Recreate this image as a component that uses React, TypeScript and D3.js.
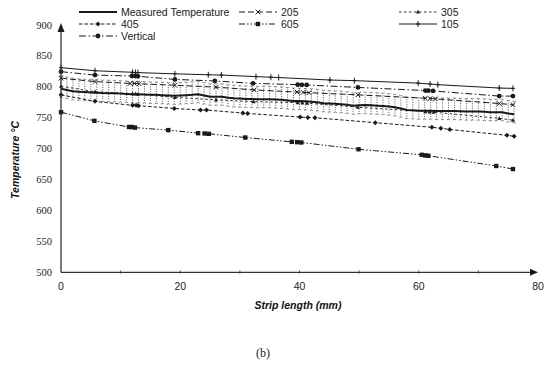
import React from "react";
import * as d3 from "d3";

// ---- data ----
const xTicks = [0, 20, 40, 60, 80];
const xMinorTicks = [10, 30, 50, 70];
const yTicks = [500, 550, 600, 650, 700, 750, 800, 850, 900];

const measuredX = [0,1,2,3,4,5,6,7,8,9,10,11,12,13,14,15,16,17,18,19,20,21,22,23,24,25,26,27,28,29,30,31,32,33,34,35,36,37,38,39,40,41,42,43,44,45,46,47,48,49,50,51,52,53,54,55,56,57,58,59,60,61,62,63,64,65,66,67,68,69,70,71,72,73,74,75,76];
const measuredY = [797,795,793,792,791.5,791,790.5,790,789.8,789.5,789,788.5,788,788,787.5,787,787,786.5,786,785.6,786,786.5,787,788,786,784,784,784,782.5,781.5,781,780.5,780.3,780,780,780,779.5,779,778,777,777,776.5,776,775,773.5,773,772.5,772,771,769.5,770,770.5,770,769.5,769,768,767,765,762.5,762,761.5,761.5,761.5,761,761,761,761,760.5,760,760,760,759.5,759,759,759,757,755.5];
const measuredErrUp = 21;
const measuredErrDown = 14;

const s205X = [0,5.7,11.6,12.3,13.1,19.1,26.0,32.4,39.6,40.6,41.6,49.8,61.1,61.9,62.8,73.5,75.8];
const s205Y = [814,808.5,805.5,805.5,805,802.5,799.5,795,791.5,791,790.5,787,781.5,781,780.5,773,771];

const s305X = [0,5.7,12.0,12.5,12.9,19.1,26.0,32.3,39.7,40.5,41.3,49.8,61.1,61.8,62.5,73.5,75.8];
const s305Y = [801,792,789,788.5,788,783,779,776,774.5,774,773.5,767,760,759.5,759,749,746];

const s405X = [0,5.7,12.0,12.6,13.0,19.0,23.4,24.4,30.5,31.3,40.1,41.4,42.6,52.7,62.2,63.7,65.2,74.8,76.0];
const s405Y = [787,776.5,770,770,769.5,765,762.5,762.5,757.5,757,751,750.5,750,742,734.5,733,731,721.5,720];

const s605X = [0,5.6,11.4,11.9,12.4,18.0,23.0,24.1,24.8,30.9,38.7,39.6,40.3,49.9,60.5,61.1,61.6,73.0,75.8];
const s605Y = [759,745,735,735,734,730,725,724.5,724,718,711,710.5,710,699,690,689,688.5,672,667];

const s105X = [0,5.7,12.0,12.5,12.9,19.1,24.7,26.9,32.7,35.2,36.5,45.1,49.2,59.9,61.9,63.2,73.5,75.8];
const s105Y = [831,826,823.5,823,823,821,819.5,819,816.5,815.5,815,811,810,806,804.5,803.5,798,797.5];

const verticalX = [0,5.7,11.9,12.5,12.9,19.1,25.8,32.2,39.7,40.4,41.2,49.8,61.1,61.6,62.4,73.5,75.8];
const verticalY = [824.5,819,817.5,817.5,817,812,809.5,805.6,803.5,803.3,803,799,794,793.8,793.3,785,785];

type Marker = "none" | "x" | "tri" | "diamond" | "square" | "plus" | "circle";

const seriesDefs: { name: string; xs: number[]; ys: number[]; dash: string; width: number; marker: Marker }[] = [
  { name: "Measured Temperature", xs: measuredX, ys: measuredY, dash: "", width: 2, marker: "none" },
  { name: "205", xs: s205X, ys: s205Y, dash: "6,3", width: 1, marker: "x" },
  { name: "305", xs: s305X, ys: s305Y, dash: "2.5,2.5", width: 0.9, marker: "tri" },
  { name: "405", xs: s405X, ys: s405Y, dash: "3.5,2", width: 1, marker: "diamond" },
  { name: "605", xs: s605X, ys: s605Y, dash: "6,2,1.5,2,1.5,2", width: 1, marker: "square" },
  { name: "105", xs: s105X, ys: s105Y, dash: "", width: 1, marker: "plus" },
  { name: "Vertical", xs: verticalX, ys: verticalY, dash: "7,2.5,1.5,2.5", width: 1, marker: "circle" },
];

const W = 550;
const H = 384;
const INK = "#1a1a1a";

function MarkerShape({ type, x, y }: { type: Marker; x: number; y: number }) {
  switch (type) {
    case "x":
      return (
        <g stroke={INK} strokeWidth={1}>
          <line x1={x - 2.3} y1={y - 2.3} x2={x + 2.3} y2={y + 2.3} />
          <line x1={x - 2.3} y1={y + 2.3} x2={x + 2.3} y2={y - 2.3} />
        </g>
      );
    case "tri":
      return <path d={`M${x},${y - 2.2}L${x + 2},${y + 1.6}L${x - 2},${y + 1.6}Z`} fill={INK} />;
    case "diamond":
      return <path d={`M${x},${y - 2.5}L${x + 2.5},${y}L${x},${y + 2.5}L${x - 2.5},${y}Z`} fill={INK} />;
    case "square":
      return <rect x={x - 2.2} y={y - 2.2} width={4.4} height={4.4} fill={INK} />;
    case "plus":
      return (
        <g stroke={INK} strokeWidth={1}>
          <line x1={x} y1={y - 3} x2={x} y2={y + 3} />
          <line x1={x - 2} y1={y} x2={x + 2} y2={y} />
        </g>
      );
    case "circle":
      return <circle cx={x} cy={y} r={2.4} fill={INK} />;
    default:
      return null;
  }
}

export default function App() {
  const x = d3.scaleLinear().domain([0, 80]).range([61, 538]);
  const y = d3.scaleLinear().domain([500, 900]).range([272.3, 25]);
  const line = d3
    .line<[number, number]>()
    .x((d) => x(d[0]))
    .y((d) => y(d[1]));

  const legendCols = [79, 239, 399];
  const legendRows = [12, 24, 36];
  const legendLen = 38;

  return (
    <svg width={W} height={H} style={{ position: "absolute", left: 0, top: 0, background: "#fff" }}>
      <rect x={0} y={0} width={W} height={H} fill="#fff" />

      {/* error bars */}
      <g stroke="#333" strokeWidth={0.8} strokeDasharray="1,1.3">
        {measuredX.map((mx, i) => {
          const px = x(mx);
          const top = y(measuredY[i] + measuredErrUp);
          const bot = y(measuredY[i] - measuredErrDown);
          return (
            <g key={i}>
              <line x1={px} y1={top} x2={px} y2={bot} />
              <line x1={px - 1.5} y1={top} x2={px + 1.5} y2={top} />
              <line x1={px - 1.5} y1={bot} x2={px + 1.5} y2={bot} />
            </g>
          );
        })}
      </g>

      {/* series */}
      {seriesDefs.map((s) => {
        const pts = s.xs.map((v, i) => [v, s.ys[i]] as [number, number]);
        return (
          <g key={s.name}>
            <path d={line(pts) || ""} fill="none" stroke={INK} strokeWidth={s.width} strokeDasharray={s.dash || undefined} />
            {s.marker !== "none" &&
              pts.map((p, i) => <MarkerShape key={i} type={s.marker} x={x(p[0])} y={y(p[1])} />)}
          </g>
        );
      })}

      {/* axes */}
      <g stroke="#333" strokeWidth={1.3} fill="none">
        <line x1={x(0)} y1={y(500)} x2={x(0)} y2={y(900) + 6} />
        <line x1={x(0)} y1={y(500)} x2={x(80) - 5} y2={y(500)} />
      </g>
      <path d={`M${x(0)},${y(900) - 2}L${x(0) + 3.5},${y(900) + 7}L${x(0) - 3.5},${y(900) + 7}Z`} fill={INK} />
      <path d={`M${x(80)},${y(500)}L${x(80) - 8},${y(500) - 3.5}L${x(80) - 8},${y(500) + 3.5}Z`} fill={INK} />
      <g stroke="#444" strokeWidth={0.8}>
        {[...xTicks.slice(1, 4), ...xMinorTicks].map((t) => (
          <line key={t} x1={x(t)} y1={y(500) - 2} x2={x(t)} y2={y(500) + 1.5} />
        ))}
      </g>

      {/* tick labels */}
      <g fontFamily="'Liberation Serif', 'Times New Roman', serif" fontSize={10.5} fill="#222" textAnchor="end">
        {yTicks.map((t) => (
          <text key={t} x={52} y={y(t) + 3.5}>
            {t}
          </text>
        ))}
      </g>
      <g fontFamily="'Liberation Sans', Arial, sans-serif" fontSize={10.5} fill="#222" textAnchor="middle">
        {xTicks.map((t) => (
          <text key={t} x={x(t)} y={290}>
            {t}
          </text>
        ))}
      </g>

      {/* axis titles */}
      <text
        x={298}
        y={309}
        textAnchor="middle"
        fontFamily="'Liberation Sans', Arial, sans-serif"
        fontSize={10.5}
        fontWeight="bold"
        fontStyle="italic"
        fill="#111"
      >
        Strip length (mm)
      </text>
      <text
        transform="translate(19,160) rotate(-90)"
        textAnchor="middle"
        fontFamily="'Liberation Sans', Arial, sans-serif"
        fontSize={10.5}
        fontWeight="bold"
        fontStyle="italic"
        fill="#111"
      >
        Temperature °C
      </text>

      {/* legend */}
      <g fontFamily="'Liberation Sans', Arial, sans-serif" fontSize={10.5} fill="#222">
        {seriesDefs.map((s, i) => {
          const col = i < 6 ? i % 3 : 0;
          const row = i < 6 ? Math.floor(i / 3) : 2;
          const lx = legendCols[col];
          const ly = legendRows[row];
          return (
            <g key={s.name}>
              <line
                x1={lx}
                y1={ly}
                x2={lx + legendLen}
                y2={ly}
                stroke={INK}
                strokeWidth={s.width}
                strokeDasharray={s.dash || undefined}
              />
              {s.marker !== "none" && <MarkerShape type={s.marker} x={lx + legendLen / 2} y={ly} />}
              <text x={lx + legendLen + 4} y={ly + 3.8}>
                {s.name}
              </text>
            </g>
          );
        })}
      </g>

      <text x={263} y={357} textAnchor="middle" fontFamily="'Liberation Serif', 'Times New Roman', serif" fontSize={12} fill="#222">
        (b)
      </text>
    </svg>
  );
}
